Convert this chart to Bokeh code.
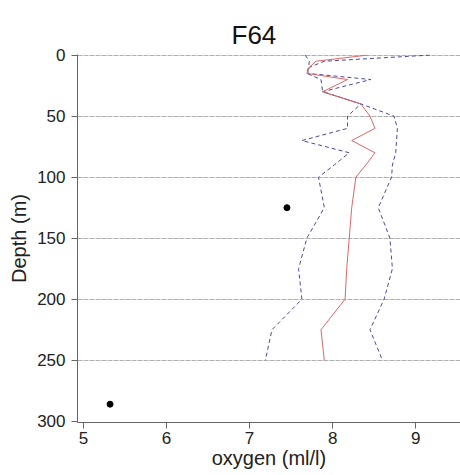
from bokeh.plotting import figure
from bokeh.models import Range1d, Title, FixedTicker
from bokeh.embed import file_html
from bokeh.resources import INLINE

depth = [0, 5, 10, 15, 20, 30, 40, 50, 60, 70, 80, 90, 100, 125, 150, 175, 200, 225, 250]
oxy_mean = [8.42, 7.80, 7.72, 7.69, 8.18, 7.88, 8.34, 8.45, 8.51, 8.23, 8.51, 8.40, 8.28, 8.23, 8.20, 8.17, 8.15, 7.86, 7.90]
oxy_min = [7.67, 7.72, 7.71, 7.69, 7.86, 7.88, 8.34, 8.18, 8.18, 7.63, 8.20, 8.02, 7.83, 7.90, 7.69, 7.59, 7.63, 7.27, 7.19]
oxy_max = [9.17, 7.90, 7.72, 7.70, 8.46, 7.88, 8.34, 8.74, 8.78, 8.77, 8.76, 8.72, 8.71, 8.55, 8.69, 8.72, 8.62, 8.45, 8.60]

obs_oxy = [7.45, 5.32]
obs_depth = [125, 286]

y_ticks = [0, 50, 100, 150, 200, 250, 300]
x_ticks = [5, 6, 7, 8, 9]

FONT = "Liberation Sans"

p = figure(width=460, height=475, output_backend="svg", toolbar_location=None,
           x_range=Range1d(4.928, 9.54), y_range=Range1d(301, -0.5),
           min_border_left=77, min_border_right=0, min_border_bottom=53, min_border_top=54)
p.outline_line_color = None
p.background_fill_color = "white"

p.add_layout(Title(text="F64", align="left", text_font=FONT, text_font_size="26px",
                   text_font_style="normal", text_color="#111111", offset=154), "above")

p.line(oxy_min, depth, line_color="#4a4a9a", line_width=1, line_dash="4 3")
p.line(oxy_max, depth, line_color="#4a4a9a", line_width=1, line_dash="4 3")
p.line(oxy_mean, depth, line_color="#e06666", line_width=1)
p.scatter(obs_oxy, obs_depth, size=6, color="black")

p.xgrid.grid_line_color = None
p.ygrid.grid_line_color = "#b0b0b0"
p.ygrid.grid_line_dash = "5 1"
p.ygrid.ticker = FixedTicker(ticks=[0, 50, 100, 150, 200, 250])

for ax in (p.xaxis[0], p.yaxis[0]):
    ax.axis_line_color = "#666666"
    ax.major_tick_line_color = "#666666"
    ax.major_tick_out = 6
    ax.major_tick_in = 0
    ax.minor_tick_line_color = None
    ax.major_label_text_font = FONT
    ax.major_label_text_font_size = "17px"
    ax.major_label_text_color = "#222222"
    ax.axis_label_text_font = FONT
    ax.axis_label_text_font_size = "20px"
    ax.axis_label_text_font_style = "normal"
    ax.axis_label_text_color = "#222222"

p.xaxis.ticker = FixedTicker(ticks=x_ticks)
p.yaxis.ticker = FixedTicker(ticks=y_ticks)
p.xaxis.axis_label = "oxygen (ml/l)"
p.yaxis.axis_label = "Depth (m)"
p.xaxis.axis_label_standoff = 0
p.yaxis.axis_label_standoff = 4
p.xaxis.major_label_standoff = 3
p.yaxis.major_label_standoff = 6

open("out.html", "w").write(file_html(p, INLINE))
